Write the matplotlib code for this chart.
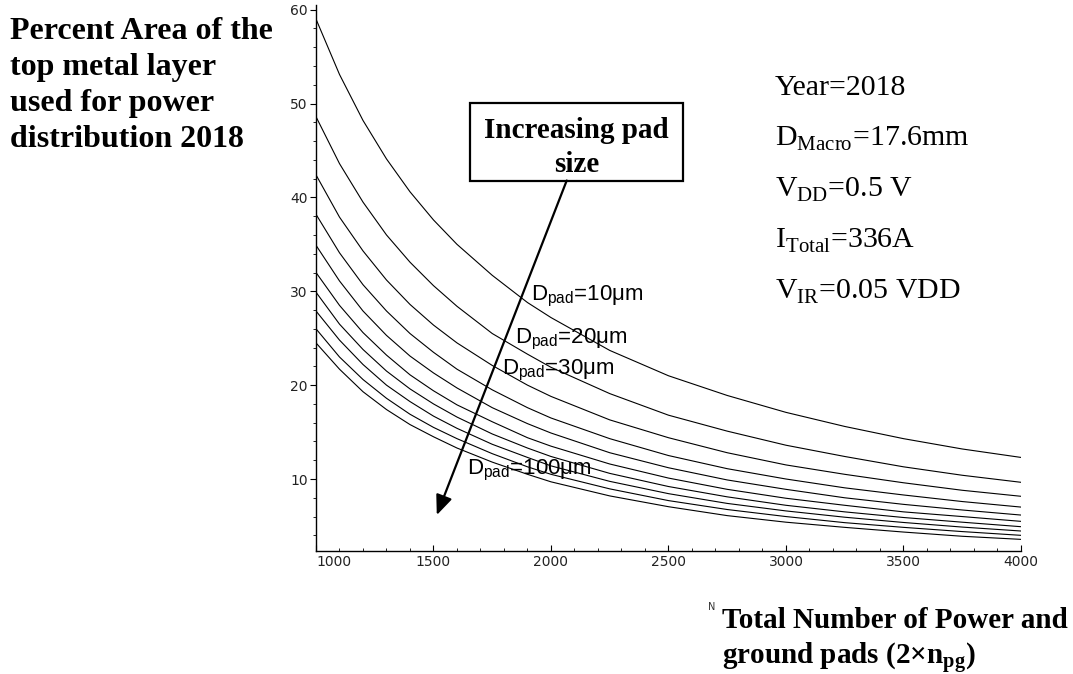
import numpy as np
import matplotlib.pyplot as plt
from matplotlib.patches import Rectangle

plt.rcParams['mathtext.fontset'] = 'custom'
plt.rcParams['mathtext.rm'] = 'Liberation Serif'
plt.rcParams['mathtext.bf'] = 'Liberation Serif:bold'
plt.rcParams['mathtext.sf'] = 'Liberation Sans'

# number of power and ground pads
N = [1000, 1100, 1200, 1300, 1400, 1500, 1600, 1750, 1900,
     2000, 2250, 2500, 2750, 3000, 3250, 3500, 3750, 4000]

# percent area, one curve per pad size (10um at the top, 100um at the bottom)
AREA_10 = [59.0, 53.1, 48.2, 44.1, 40.6, 37.6, 35.0, 31.7, 28.8,
           27.2, 23.7, 21.0, 18.9, 17.1, 15.6, 14.3, 13.2, 12.3]
AREA_20 = [48.6, 43.6, 39.5, 36.0, 33.1, 30.6, 28.4, 25.5, 23.3,
           21.9, 19.1, 16.8, 15.1, 13.6, 12.4, 11.3, 10.4, 9.65]
AREA_30 = [42.4, 37.9, 34.3, 31.2, 28.6, 26.4, 24.5, 22.1, 20.0,
           18.8, 16.3, 14.4, 12.8, 11.5, 10.5, 9.6, 8.8, 8.16]
AREA_40 = [38.2, 34.1, 30.7, 27.9, 25.5, 23.5, 21.7, 19.5, 17.6,
           16.5, 14.3, 12.5, 11.1, 10.0, 9.06, 8.3, 7.6, 7.01]
AREA_50 = [34.9, 31.1, 27.9, 25.3, 23.1, 21.3, 19.7, 17.6, 15.9,
           14.9, 12.8, 11.2, 9.9, 8.9, 8.0, 7.3, 6.7, 6.16]
AREA_60 = [32.0, 28.5, 25.6, 23.2, 21.1, 19.4, 17.9, 16.1, 14.4,
           13.5, 11.6, 10.1, 8.9, 7.95, 7.2, 6.5, 6.0, 5.49]
AREA_70 = [29.9, 26.5, 23.8, 21.5, 19.6, 18.0, 16.6, 14.8, 13.3,
           12.4, 10.6, 9.2, 8.1, 7.2, 6.5, 5.9, 5.4, 4.92]
AREA_80 = [27.9, 24.8, 22.2, 20.0, 18.25, 16.7, 15.4, 13.7, 12.3,
           11.4, 9.75, 8.44, 7.4, 6.6, 5.93, 5.37, 4.88, 4.46]
AREA_90 = [26.0, 23.0, 20.6, 18.6, 16.9, 15.5, 14.3, 12.7, 11.3,
           10.5, 8.95, 7.7, 6.75, 6.0, 5.35, 4.85, 4.4, 4.00]
AREA_100 = [24.5, 21.7, 19.3, 17.4, 15.8, 14.5, 13.3, 11.8, 10.5,
            9.7, 8.2, 7.05, 6.1, 5.4, 4.85, 4.35, 3.9, 3.57]

CURVES = [AREA_10, AREA_20, AREA_30, AREA_40, AREA_50,
          AREA_60, AREA_70, AREA_80, AREA_90, AREA_100]

PAD_LABELS = [r'D$_{\mathsf{pad}}$=10μm', r'D$_{\mathsf{pad}}$=20μm',
              r'D$_{\mathsf{pad}}$=30μm', r'D$_{\mathsf{pad}}$=100μm']

PARAMS = ['Year=2018',
          r'D$_{\mathrm{Macro}}$=17.6mm',
          r'V$_{\mathrm{DD}}$=0.5 V',
          r'I$_{\mathrm{Total}}$=336A',
          r'V$_{\mathrm{IR}}$=0.05 VDD']

fig = plt.figure(figsize=(10.73, 6.74), dpi=100)
ax = fig.add_axes([0.2945, 0.1829, 0.657, 0.8097])

for area in CURVES:
    ax.plot(N, area, color='black', lw=0.8)

ax.set_xlim(1000, 4000)
ax.set_ylim(2.36, 60.5)
ax.spines['top'].set_visible(False)
ax.spines['right'].set_visible(False)
ax.spines['left'].set_linewidth(1.0)
ax.spines['bottom'].set_linewidth(1.0)

ax.set_xticks(np.arange(1000, 4001, 500))
ax.set_xticks(np.arange(1000, 4001, 100), minor=True)
ax.set_yticks(np.arange(10, 61, 10))
ax.set_yticks(np.arange(4, 61, 2), minor=True)
ax.tick_params(axis='x', which='major', direction='in', length=4, pad=3,
               labelsize=10, labelcolor='#222222')
ax.tick_params(axis='x', which='minor', direction='in', length=2.5)
ax.tick_params(axis='y', which='major', direction='out', length=4, pad=2,
               labelsize=10, labelcolor='#222222')
ax.tick_params(axis='y', which='minor', direction='out', length=2.5)
ax.get_xticklabels()[0].set_ha('left')

fig.text(712 / 1073, 1 - 607 / 674, 'N', fontsize=7, color='#333333',
         ha='center', va='center')

# "Increasing pad size" box and arrow
ax.add_patch(Rectangle((1655, 41.8), 907, 8.3, fill=False, lw=1.6,
                       edgecolor='black', zorder=5))
ax.text(2108, 45.3, 'Increasing pad\nsize', ha='center', va='center',
        family='Liberation Serif', fontweight='bold', fontsize=21,
        linespacing=1.32, zorder=6)
ax.annotate('', xy=(1514, 6.16), xytext=(2067, 41.8),
            arrowprops=dict(arrowstyle='-|>,head_length=1.2,head_width=0.5',
                            color='black', lw=1.6, shrinkA=0, shrinkB=0))

# pad size labels
pad_pos = [(1915, 29.4), (1848, 24.9), (1793, 21.6), (1644, 10.9)]
for (px, py), lab in zip(pad_pos, PAD_LABELS):
    ax.text(px, py, lab, family='Liberation Sans', fontsize=16,
            ha='left', va='center', zorder=4)

# parameter block
for i, s in enumerate(PARAMS):
    fig.text(775 / 1073, 1 - (95 + 51 * i) / 674, s,
             family='Liberation Serif', fontsize=21.5, ha='left',
             va='baseline')

fig.text(10 / 1073, 1 - 17 / 674,
         'Percent Area of the\ntop metal layer\nused for power\ndistribution 2018',
         family='Liberation Serif', fontweight='bold', fontsize=23,
         ha='left', va='top', linespacing=1.32)

fig.text(722 / 1073, 1 - 607 / 674,
         'Total Number of Power and\n' + r'ground pads (2×n$_{\mathbf{pg}}$)',
         family='Liberation Serif', fontweight='bold', fontsize=21,
         ha='left', va='top', linespacing=1.25)

fig.savefig('out.png', dpi=100, facecolor='white')
